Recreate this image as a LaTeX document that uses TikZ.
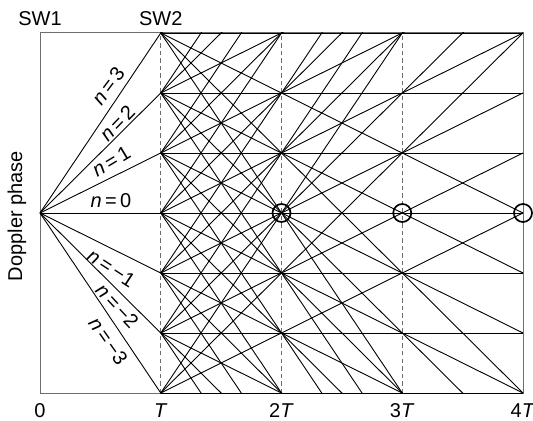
\documentclass[tikz,border=0pt]{standalone}
\usepackage{fontspec}
\setmainfont{Liberation Sans}
\usetikzlibrary{positioning}
\definecolor{frameGray}{HTML}{6E6E6E}

\begin{document}
\begin{tikzpicture}[x=120.75bp,y=60bp,
    font=\fontsize{20bp}{23bp}\selectfont,
    beam/.style={line width=0.9bp,black},
    switchline/.style={draw=frameGray,dash pattern=on 4.5bp off 3bp,line width=1bp},
    ring/.style={draw,circle,line width=1.7bp,minimum size=18bp,inner sep=0pt},
    order/.style={inner sep=1bp}]
  \useasboundingbox (-0.3313,-3.4667) rectangle (4.0828,3.55);
  % frame and switching times
  \draw[frameGray,line width=1bp] (0,-3) rectangle (4,3);
  \foreach \t in {1,2,3}
    \draw[switchline] (\t,-3) -- (\t,3);
  % phase points after SW1 and SW2
  \coordinate (sw1) at (0,0);
  \foreach \n in {-3,...,3}
    \coordinate (p\n) at (1,\n);
  \begin{scope}
    \clip (0,-3) rectangle (4,3);
    \foreach \n in {-3,...,3}
      \foreach \m in {-3,...,3}
        \draw[beam] (p\n) -- ++(3,3*\m);
  \end{scope}
  \foreach \n in {-3,...,3}
    \draw[beam] (sw1) -- (p\n);
  % phase returns to zero
  \node[ring] (r2) at (2,0) {};
  \node[ring] (r3) at (3,0) {};
  \node[ring] (r4) at (4,0) {};
  % orders
  \node[order,rotate=53]  (o3)  at (0.565,2.12)   {\textit{n}\,=\,3};
  \node[order,rotate=46]  (o2)  at (0.64,1.50)    {\textit{n}\,=\,2};
  \node[order,rotate=31]  (o1)  at (0.59,0.86)    {\textit{n}\,=\,1};
  \node[order]            (o0)  at (0.588,0.2)    {\textit{n}\,=\,0};
  \node[order,rotate=-33] (om1) at (0.59,-0.92)   {\textit{n}\,=\,−1};
  \node[order,rotate=-47] (om2) at (0.64,-1.55)   {\textit{n}\,=\,−2};
  \node[order,rotate=-55] (om3) at (0.565,-2.13)  {\textit{n}\,=\,−3};
  % axes
  \node (sw1lbl) at (0,3.233) {SW1};
  \node (sw2lbl) at (1,3.233) {SW2};
  \node[rotate=90] (ylbl) at (-0.19,-0.05) {Doppler phase};
  \node (t0) at (0,-3.3) {0};
  \node (t1) at (1,-3.3) {\textit{T}};
  \node (t2) at (2,-3.3) {2\textit{T}};
  \node (t3) at (3,-3.3) {3\textit{T}};
  \node (t4) at (4,-3.3) {4\textit{T}};
\end{tikzpicture}
\end{document}
